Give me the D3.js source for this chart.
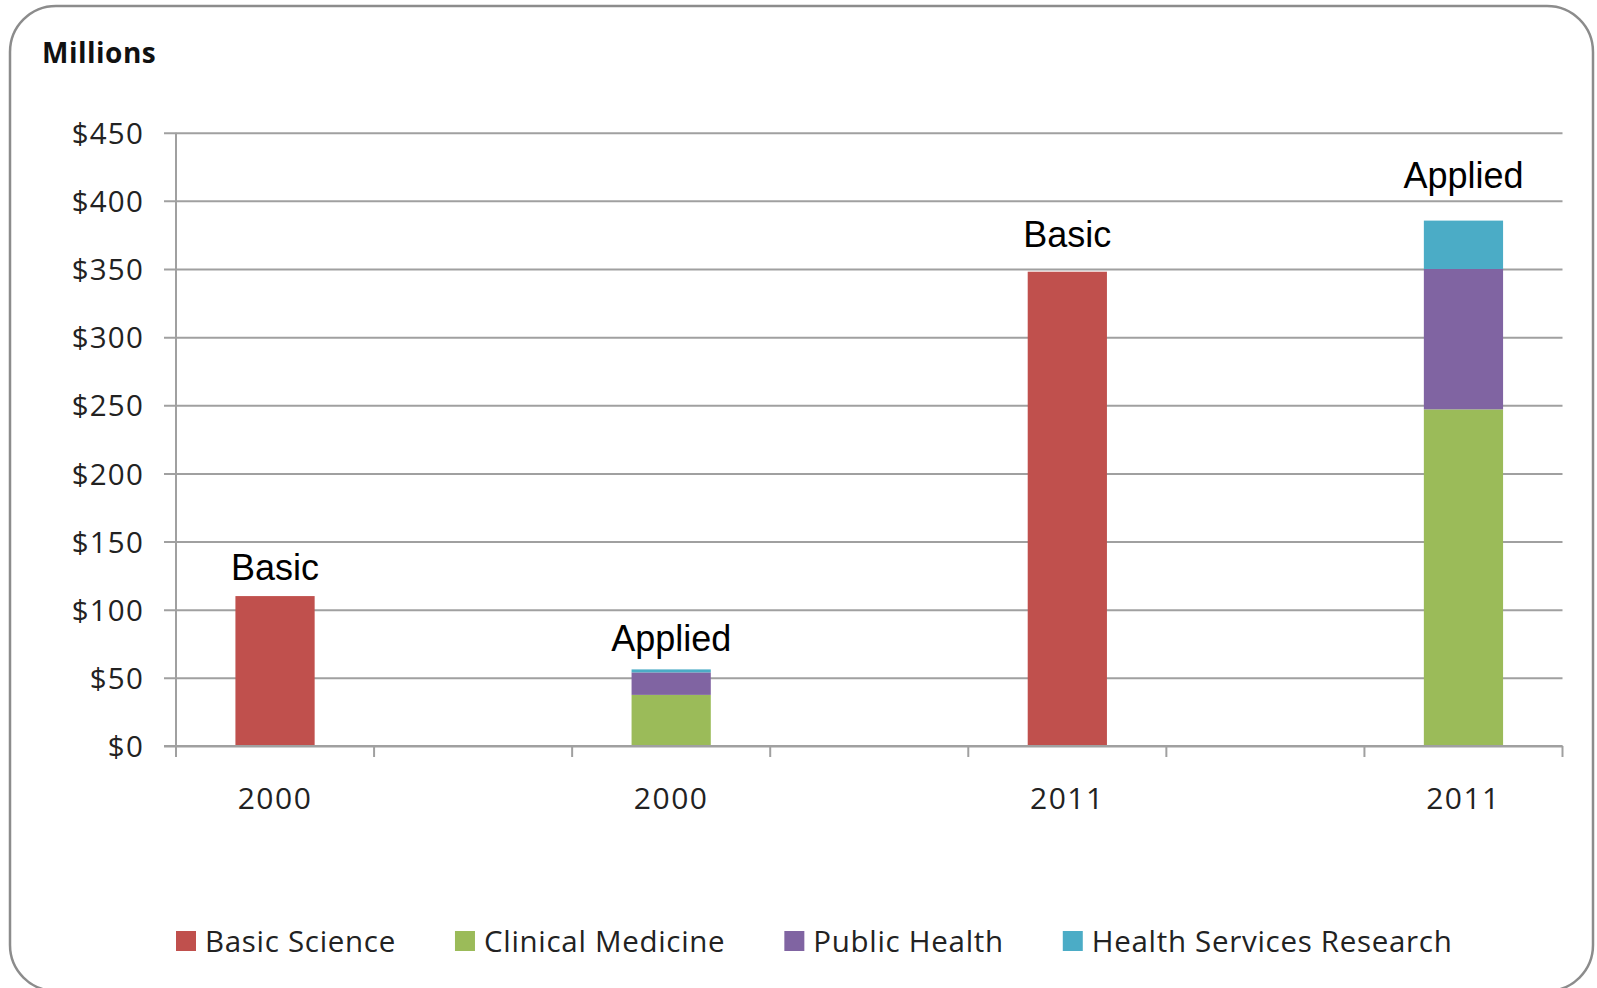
<!DOCTYPE html>
<html>
<head>
<meta charset="utf-8">
<script src="https://cdn.jsdelivr.net/npm/d3@7"></script>
<style>
  body { margin: 0; background: #fff; }
  svg { display: block; }
</style>
</head>
<body>
<svg id="render" width="1597" height="988"></svg>
<script>
// categories (blank ones are Excel spacer columns)
const categories = ["2000", "", "2000", "", "2011", "", "2011"];
const barLabels = ["Basic", "", "Applied", "", "Basic", "", "Applied"];
const seriesNames = ["Basic Science", "Clinical Medicine", "Public Health", "Health Services Research"];
const basicScience = [110, 0, 0, 0, 348, 0, 0];
const clinicalMedicine = [0, 0, 37.5, 0, 0, 0, 247];
const publicHealth = [0, 0, 16.5, 0, 0, 0, 103];
const healthServices = [0, 0, 2.2, 0, 0, 0, 35.5];
const yTicks = [0, 50, 100, 150, 200, 250, 300, 350, 400, 450];
const colors = ["#C0504D", "#9BBB59", "#8064A2", "#4BACC6"];

const svg = d3.select("svg#render");
const W = 1597, H = 988;
const margin = {left: 176, right: 1597 - 1562.5, top: 132.7, bottom: 988 - 746};

const table = categories.map((c, i) => ({
    idx: i,
    "Basic Science": basicScience[i],
    "Clinical Medicine": clinicalMedicine[i],
    "Public Health": publicHealth[i],
    "Health Services Research": healthServices[i]
}));
const stacked = d3.stack().keys(seriesNames)(table);

const x = d3.scaleBand()
    .domain(d3.range(categories.length))
    .range([margin.left, W - margin.right])
    .paddingInner(0.6)
    .paddingOuter(0.3);
const y = d3.scaleLinear()
    .domain([0, 450])
    .range([H - margin.bottom, margin.top]);

const color = d3.scaleOrdinal().domain(seriesNames).range(colors);
const uiFont = "'Open Sans', sans-serif";

// outer frame
svg.append("rect")
    .attr("x", 10).attr("y", 6)
    .attr("width", 1583).attr("height", 985)
    .attr("rx", 46).attr("ry", 46)
    .attr("fill", "#fff")
    .attr("stroke", "#8c8c8c")
    .attr("stroke-width", 2.5);

svg.append("text")
    .attr("x", 42).attr("y", 63)
    .attr("font-family", uiFont)
    .attr("font-weight", "bold")
    .attr("font-size", 28)
    .attr("letter-spacing", 0.5)
    .attr("fill", "#111")
    .text("Millions");

// grid + y axis
const yAxis = svg.append("g")
    .attr("transform", `translate(${margin.left},0)`)
    .call(d3.axisLeft(y)
        .tickValues(yTicks)
        .tickSize(-(W - margin.right - margin.left))
        .tickPadding(0)
        .tickFormat(d => "$" + d));
yAxis.select(".domain").remove();
yAxis.selectAll(".tick line")
    .attr("x1", -12)
    .attr("stroke", "#a0a0a0")
    .attr("stroke-width", 2);
yAxis.selectAll(".tick text")
    .attr("x", -32)
    .attr("dy", "0.36em")
    .attr("font-family", uiFont)
    .attr("font-size", 29.5)
    .attr("letter-spacing", 1.2)
    .attr("fill", "#222");

svg.append("line")
    .attr("x1", margin.left).attr("x2", margin.left)
    .attr("y1", y(450)).attr("y2", y(0))
    .attr("stroke", "#a0a0a0").attr("stroke-width", 2);

// bars
svg.append("g")
    .selectAll("g")
    .data(stacked)
    .join("g")
    .attr("fill", d => color(d.key))
    .selectAll("rect")
    .data(d => d.filter(s => s[1] > s[0]))
    .join("rect")
    .attr("x", d => x(d.data.idx))
    .attr("width", x.bandwidth())
    .attr("y", d => y(d[1]))
    .attr("height", d => y(d[0]) - y(d[1]));

// x axis with ticks at category boundaries
const base = y(0);
svg.append("line")
    .attr("x1", margin.left - 12).attr("x2", W - margin.right)
    .attr("y1", base).attr("y2", base)
    .attr("stroke", "#a0a0a0").attr("stroke-width", 2);
const step = x.step();
const bounds = d3.range(categories.length + 1).map(i => margin.left + i * step);
svg.append("g")
    .selectAll("line")
    .data(bounds)
    .join("line")
    .attr("x1", d => d).attr("x2", d => d)
    .attr("y1", base).attr("y2", base + 11)
    .attr("stroke", "#a0a0a0").attr("stroke-width", 2);

svg.append("g")
    .selectAll("text")
    .data(categories.map((c, i) => ({c, i})).filter(d => d.c))
    .join("text")
    .attr("x", d => x(d.i) + x.bandwidth() / 2)
    .attr("y", 809)
    .attr("text-anchor", "middle")
    .attr("font-family", uiFont)
    .attr("font-size", 30)
    .attr("letter-spacing", 1.5)
    .attr("fill", "#222")
    .text(d => d.c);

// Basic / Applied annotations above bars
const totals = table.map(d => seriesNames.reduce((s, k) => s + d[k], 0));
const labelGap = [16, 0, 18, 0, 25, 0, 33];
svg.append("g")
    .selectAll("text")
    .data(barLabels.map((t, i) => ({t, i})).filter(d => d.t))
    .join("text")
    .attr("x", d => x(d.i) + x.bandwidth() / 2)
    .attr("y", d => y(totals[d.i]) - labelGap[d.i])
    .attr("text-anchor", "middle")
    .attr("font-family", "'Liberation Sans', Arial, sans-serif")
    .attr("font-size", 36)
    .attr("fill", "#000")
    .text(d => d.t);

// legend
const legend = svg.append("g").attr("transform", "translate(176,941)");
let lx = 0;
seriesNames.forEach((name, i) => {
    const g = legend.append("g").attr("transform", `translate(${lx},0)`);
    g.append("rect")
        .attr("x", 0).attr("y", -10)
        .attr("width", 20).attr("height", 20)
        .attr("fill", colors[i]);
    const t = g.append("text")
        .attr("x", 29).attr("dy", "0.36em")
        .attr("font-family", uiFont)
        .attr("font-size", 29.5)
        .attr("letter-spacing", 0.7)
        .attr("fill", "#222")
        .text(name);
    lx += 29 + t.node().getComputedTextLength() + 59;
});
</script>
</body>
</html>
